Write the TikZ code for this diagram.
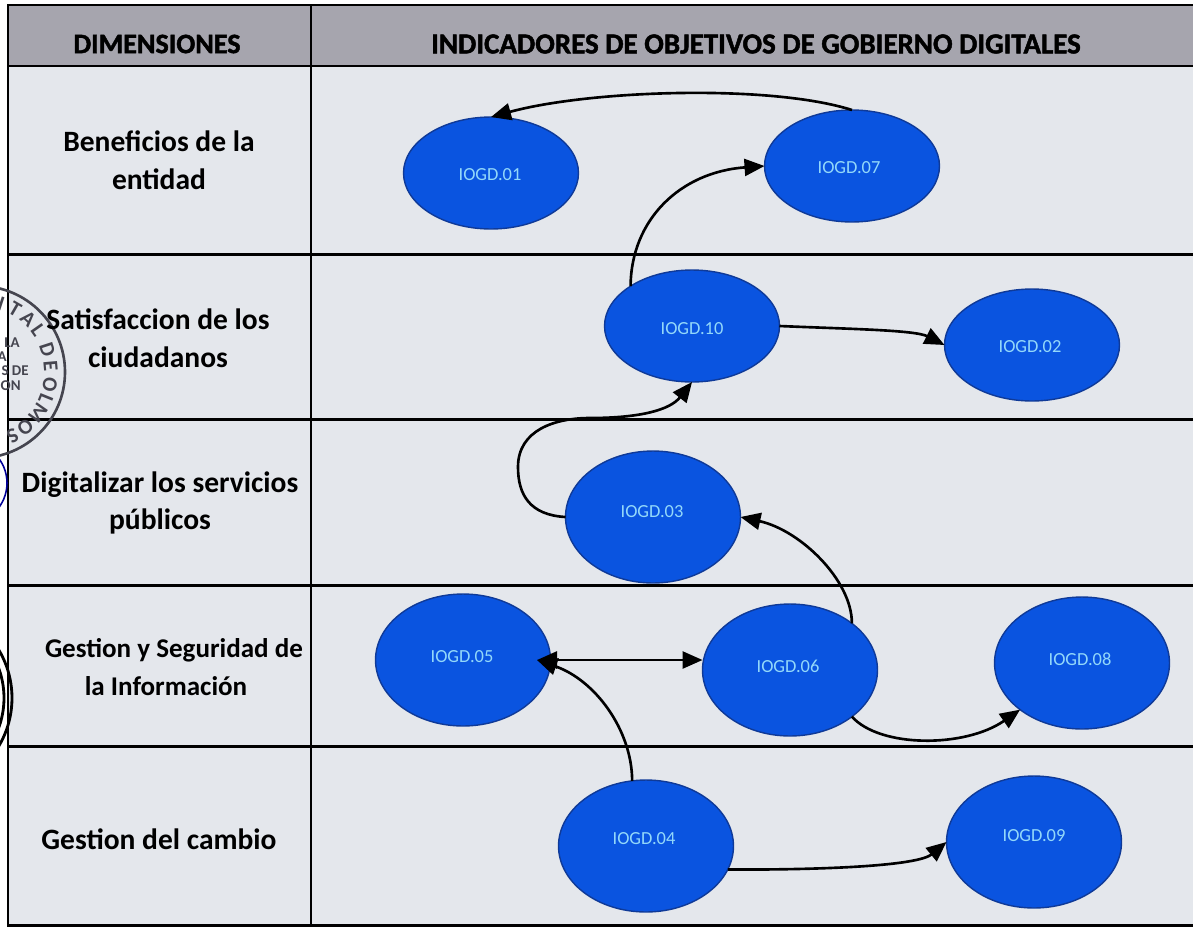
\documentclass[tikz,border=0pt]{standalone}
\usepackage{fontspec}
\setmainfont{Carlito}
\newfontfamily\gruesa[FakeBold=1.6]{Carlito Bold}
\usepackage{xcolor}
\usetikzlibrary{shapes.geometric,arrows.meta,positioning,calc}
\definecolor{celda}{HTML}{E4E7EC}
\definecolor{cabecera}{HTML}{A6A5AE}
\definecolor{azul}{HTML}{0A54E0}
\definecolor{azulborde}{HTML}{0F3A98}
\definecolor{celeste}{HTML}{93D8FA}
\definecolor{sello}{HTML}{45454F}

\begin{document}
\begin{tikzpicture}[
    x=0.02cm, y=-0.02cm,
    indicador/.style={ellipse, draw=azulborde, fill=azul, line width=0.8pt, minimum width=3.5cm, minimum height=2.24cm, inner sep=0pt, outer sep=0pt},
    alto/.style={minimum height=2.64cm},
    etiqueta/.style={text=celeste, font=\fontsize{10.5}{12}\selectfont},
    dimension/.style={align=center, font=\fontsize{16.8}{21.5}\selectfont\bfseries},
    titulo/.style={font=\gruesa\fontsize{16}{18}\selectfont},
    flecha/.style={-{Triangle[length=0.4cm, width=0.34cm]}, line width=1.5pt, black},
    regla/.style={black, line width=1.7pt},
    letra/.style={text=sello, font=\fontsize{8.5}{9}\selectfont\bfseries, inner sep=0pt},
    letrota/.style={letra, font=\fontsize{12}{13}\selectfont\bfseries}
]
    \clip (0,0) rectangle (1193,927);
    \fill[white] (0,0) rectangle (1193,927);

    % Table
    \fill[celda] (8,5) rectangle (1193,925);
    \fill[cabecera] (8,5) rectangle (1193,66);
    \draw[regla] (1193,5) -- (8,5) -- (8,925) -- (1193,925);
    \draw[regla] (311,5) -- (311,925);
    \foreach \y in {66,254,419,585,746}
        \draw[regla] (8,\y) -- (1193,\y);

    % Stamps cut by the left margin
    \draw[sello, line width=1.5pt] (-21,372) circle (86);
    \foreach \txt/\ang in {I/72,T/60,A/47,L/35,D/18,E/5,O/-10,L/-22,M/-35,O/-50,S/-62}
        \node[letrota, rotate=\ang-90] at ($(-21,372)+(\ang:72 and -72)$) {\txt};
    \node[letra, anchor=east] (selloa) at (20,343) {LA};
    \node[letra, anchor=east] (sellob) at (7,357) {A};
    \node[letra, anchor=east] (selloc) at (29,371) {S DE};
    \node[letra, anchor=east] (sellod) at (21,386) {ON};
    \draw[blue!60!black, line width=0.9pt] (-34,483) circle (41);
    \draw[black, line width=1.6pt] (-82,698) circle (94);
    \draw[black, line width=1.6pt] (-82,698) circle (86);

    % Titles
    \node[titulo] (dimtit) at (157,44) {DIMENSIONES};
    \node[titulo, font=\gruesa\fontsize{16.5}{18}\selectfont] (indtit) at (756,44) {INDICADORES DE OBJETIVOS DE GOBIERNO DIGITALES};

    % Dimensions
    \node[dimension] (dim1) at (159,160) {Beneficios de la\\entidad};
    \node[dimension] (dim2) at (158,338) {Satisfaccion de los\\ciudadanos};
    \node[dimension] (dim3) at (160,503) {Digitalizar los servicios\\públicos};
    \node[dimension, font=\fontsize{15.4}{21.5}\selectfont\bfseries] (dim4) at (174,667) {Gestion y Seguridad de\\la Información\hspace*{0.32cm}};
    \node[dimension] (dim5) at (159,839) {Gestion del cambio};

    % Indicators
    \node[indicador] (ind01) at (491,173) {};
    \node[indicador] (ind07) at (852,166) {};
    \node[indicador] (ind10) at (692,326) {};
    \node[indicador] (ind02) at (1032,345) {};
    \node[indicador, alto] (ind03) at (653,517) {};
    \node[indicador, alto] (ind05) at (463,660) {};
    \node[indicador, alto] (ind06) at (790,670) {};
    \node[indicador, alto] (ind08) at (1082,663) {};
    \node[indicador, alto] (ind04) at (646,846) {};
    \node[indicador, alto] (ind09) at (1034,842) {};

    % Indicator names
    \node[etiqueta] (txt01) at (490,175) {IOGD.01};
    \node[etiqueta] (txt07) at (849,168) {IOGD.07};
    \node[etiqueta] (txt10) at (692,329) {IOGD.10};
    \node[etiqueta] (txt02) at (1030,347) {IOGD.02};
    \node[etiqueta] (txt03) at (652,512) {IOGD.03};
    \node[etiqueta] (txt05) at (462,657) {IOGD.05};
    \node[etiqueta] (txt06) at (788,666) {IOGD.06};
    \node[etiqueta] (txt08) at (1080,659) {IOGD.08};
    \node[etiqueta] (txt04) at (644,839) {IOGD.04};
    \node[etiqueta] (txt09) at (1034,836) {IOGD.09};

    % Connectors
    \coordinate (punta05) at (537,660);
    \draw[flecha] (ind07.north) .. controls (770,84) and (590,90) .. (ind01.north);
    \draw[flecha] (ind10.147) .. controls (631,220) and (680,172) .. (ind07.west);
    \draw[flecha] (ind10.east) .. controls (850,329) and (915,330) .. (ind02.west);
    \draw[flecha] (ind03.west) .. controls (530,515) and (518,495) .. (518,467)
        .. controls (518,430) and (555,418) .. (590,418)
        .. controls (640,418) and (670,410) .. (ind10.south);
    \draw[flecha] (ind06.37) .. controls (852,580) and (800,530) .. (ind03.east);
    \draw[flecha, {Triangle[length=0.4cm, width=0.34cm]}-{Triangle[length=0.4cm, width=0.34cm]}] (punta05) -- (punta05 -| ind06.west);
    \draw[flecha] (ind04.102) .. controls (632,730) and (595,680) .. (punta05);
    \draw[flecha] (ind06.-37) .. controls (880,748) and (965,748) .. (ind08.-143);
    \draw[flecha] (ind04.-16) .. controls (790,870) and (915,868) .. (ind09.west);
\end{tikzpicture}
\end{document}
